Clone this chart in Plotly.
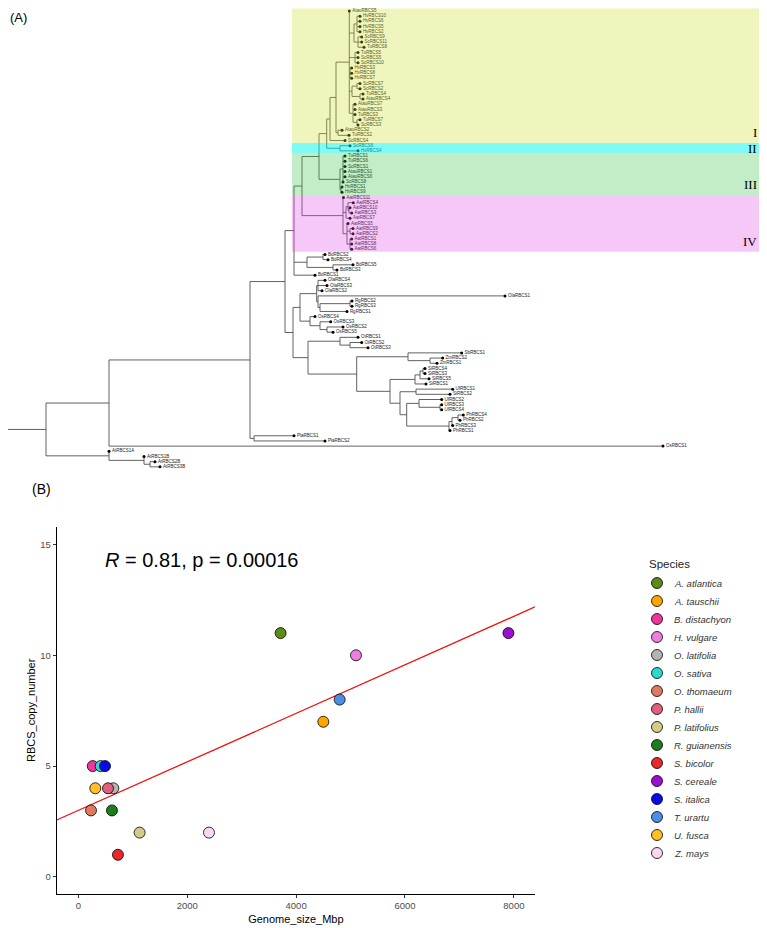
import numpy as np
import plotly.graph_objects as go

# =====================  PANEL A DATA : RBCS gene tree  =====================
# Newick sub-clades (branch lengths in substitutions / site)
GROUP_I_A = "((HvRBCS10:0.003,HvRBCS6:0.003,HvRBCS5:0.003,HvRBCS2:0.003):0.003,(ScRBCS9:0.0037,ScRBCS11:0.0037,TuRBCS8:0.006):0.004)"
GROUP_I_B = "(TuRBCS5:0.003,ScRBCS5:0.003,ScRBCS10:0.003)"
GROUP_I_C = "(HvRBCS3:0.0017,HvRBCS8:0.0017,HvRBCS7:0.0017)"
GROUP_I_D = "((ScRBCS7:0.003,ScRBCS2:0.003):0.005,(TuRBCS4:0.003,AtauRBCS4:0.003):0.008)"
GROUP_I_E = "(AtauRBCS7:0.002,AtauRBCS3:0.002,TuRBCS3:0.002,(TuRBCS7:0.003,ScRBCS3:0.001):0.004)"
GROUP_I_F = "(AtauRBCS2:0.004,TuRBCS2:0.011)"
GROUP_II = "(ScRBCS6:0.010,HvRBCS4:0.018)"
GROUP_III = "((TuRBCS1:0.002,TuRBCS6:0.002,ScRBCS1:0.002,AtauRBCS1:0.002,AtauRBCS6:0.002,ScRBCS8:0.0):0.003,(HvRBCS1:0.001,HvRBCS9:0.001):0.001)"
GROUP_IV = "(AatRBCS11:0.0005,((AatRBCS4:0.0053,(AatRBCS10:0.001,AatRBCS3:0.0027):0.001):0.002,AatRBCS7:0.004):0.003,(AatRBCS5:0.001,(AatRBCS9:0.003,AatRBCS2:0.003):0.003,(AatRBCS1:0.0017,AatRBCS8:0.0017,AatRBCS6:0.0017):0.003):0.004)"
CLADE_BD = "((BdRBCS2:0.002,BdRBCS4:0.005):0.016,(BdRBCS5:0.020,BdRBCS3:0.004):0.026)"
CLADE_OLA_RG = "((OlaRBCS4:0.007,OlaRBCS3:0.009,OlaRBCS2:0.004):0.0013,(OlaRBCS1:0.187,((RgRBCS2:0.002,RgRBCS3:0.002):0.030,RgRBCS1:0.027):0.002):0.0013)"
CLADE_OS = "(OsRBCS4:0.005,(OsRBCS3:0.0107,(OsRBCS2:0.016,OsRBCS5:0.006):0.007):0.010)"
CLADE_OT = "(OtRBCS1:0.018,(OtRBCS2:0.0117,OtRBCS3:0.018):0.010)"
CLADE_SB_ZM = "(SbRBCS1:0.0537,(ZmRBCS2:0.0127,ZmRBCS1:0.007):0.022)"
CLADE_SI = "(((SiRBCS4:0.002,SiRBCS3:0.002):0.003,SiRBCS5:0.009):0.005,SiRBCS1:0.011)"
CLADE_UF_PH = "((UfRBCS1:0.0367,SiRBCS2:0.034):0.016,((UfRBCS2:0.0227,(UfRBCS3:0.0017,UfRBCS4:0.0017):0.021):0.0123,(((PhRBCS4:0.0053,PhRBCS2:0.002):0.006,PhRBCS3:0.0007):0.003,PhRBCS1:0.001):0.0423):0.0067)"
CLADE_PLA = "(PlaRBCS1:0.040,PlaRBCS2:0.071)"
CLADE_AT = "(AtRBCS1A:0.0,(AtRBCS1B:0.0,(AtRBCS2B:0.005,AtRBCS3B:0.010):0.006):0.035)"

GROUP_I = (f"(((AtauRBCS5:0.0,{GROUP_I_A}:0.0047,{GROUP_I_B}:0.0057,"
           f"{GROUP_I_C}:0.0007,{GROUP_I_D}:0.0027,{GROUP_I_E}:0.0037):0.0133,{GROUP_I_F}:0.002):0.006,ScRBCS4:0.015)")
GRASS_CORE = f"((({GROUP_I}:0.0033,{GROUP_II}:0.0133):0.0077,{GROUP_III}:0.021):0.017,{GROUP_IV}:0.041)"
PANICOID = f"({CLADE_OT}:0.032,({CLADE_SB_ZM}:0.0513,({CLADE_SI}:0.025,{CLADE_UF_PH}:0.010):0.0333):0.0487)"
TREE_NEWICK = (f"((((({GRASS_CORE}:0.008,{CLADE_BD}:0.013,BdRBCS1:0.021):0.009,"
               f"(({CLADE_OLA_RG}:0.0167,{CLADE_OS}:0.010):0.007,{PANICOID}:0.015):0.008):0.035,"
               f"{CLADE_PLA}:0.004):0.141,OsRBCS1:0.554):0.063,{CLADE_AT}:0.063):0.041;")

HILIGHT_NAMES = ["I", "II", "III", "IV"]
HILIGHT_FIRST = ["AtauRBCS5", "ScRBCS6", "TuRBCS1", "AatRBCS11"]
HILIGHT_LAST = ["ScRBCS4", "HvRBCS4", "HvRBCS9", "AatRBCS6"]
HILIGHT_FILL = ["rgba(205,222,38,0.3)", "rgba(0,245,235,0.5)", "rgba(52,195,65,0.3)", "rgba(222,72,231,0.3)"]

# =====================  PANEL B DATA : genome size vs copy number  =====================
species = ["A. atlantica", "A. tauschii", "B. distachyon", "H. vulgare", "O. latifolia", "O. sativa",
           "O. thomaeum", "P. hallii", "P. latifolius", "R. guianensis", "S. bicolor", "S. cereale",
           "S. italica", "T. urartu", "U. fusca", "Z. mays"]
genome_size_mbp = [3715, 4500, 265, 5100, 643, 410, 233, 545, 1126, 618, 728, 7900, 490, 4800, 312, 2400]
rbcs_copy_number = [11, 7, 5, 10, 4, 5, 3, 4, 2, 3, 1, 11, 5, 8, 4, 2]
species_colors = ["#5B8C1A", "#FFA500", "#F0359E", "#EE7FE0", "#B4B4B4", "#2ED8CE", "#DD7A62", "#E0607E",
                  "#D3CB8A", "#1B7D1B", "#E8282A", "#9A10D0", "#0A0AE8", "#4A90E2", "#FFC125", "#F8D8F0"]
cor_label = "<i>R</i> = 0.81, p = 0.00016"

# ---------------------------------------------------------------------------
# page geometry: the HTML body has an 8 px margin, so the figure is 8 px smaller
OFF = 8.0
W = 767.0 - OFF
H = 928.0 - OFF


def px(xp):
    return (xp - OFF) / W


def py(yp):
    return 1 - (yp - OFF) / H


def parse_newick(text):
    s = "".join(text.split()).rstrip(";")
    pos = 0

    def node():
        nonlocal pos
        n = {"children": [], "name": "", "len": 0.0}
        if s[pos] == "(":
            pos += 1
            while True:
                n["children"].append(node())
                if s[pos] == ",":
                    pos += 1
                    continue
                pos += 1  # ')'
                break
        st = pos
        while pos < len(s) and s[pos] not in ":,()":
            pos += 1
        n["name"] = s[st:pos]
        if pos < len(s) and s[pos] == ":":
            pos += 1
            st = pos
            while pos < len(s) and s[pos] not in ",()":
                pos += 1
            n["len"] = float(s[st:pos])
        return n

    return node()


root = parse_newick(TREE_NEWICK)
leaves = []


def layout(n, x0):
    n["x"] = x0 + n["len"]
    if n["children"]:
        for c in n["children"]:
            layout(c, n["x"])
        n["y"] = (n["children"][0]["y"] + n["children"][-1]["y"]) / 2
    else:
        n["y"] = len(leaves)
        leaves.append(n)


layout(root, 0.0)
seg_x, seg_y = [], []


def segments(n, px0):
    seg_x.extend([px0, n["x"], None])
    seg_y.extend([n["y"], n["y"], None])
    if n["children"]:
        seg_x.extend([n["x"], n["x"], None])
        seg_y.extend([n["children"][0]["y"], n["children"][-1]["y"], None])
        for c in n["children"]:
            segments(c, n["x"])


segments(root, 0.0)
leaf_index = {l["name"]: l["y"] for l in leaves}

fig = go.Figure()
fig.add_trace(go.Scatter(x=seg_x, y=seg_y, mode="lines", line=dict(color="#505050", width=0.9),
                         hoverinfo="skip", showlegend=False, xaxis="x", yaxis="y"))
fig.add_trace(go.Scatter(x=[l["x"] for l in leaves], y=[l["y"] for l in leaves], mode="markers+text",
                         text=[l["name"] for l in leaves], textposition="middle right",
                         textfont=dict(size=4.5, color="#222222", family="Liberation Sans"),
                         marker=dict(size=3, color="black"), cliponaxis=False,
                         showlegend=False, xaxis="x", yaxis="y"))

shapes = []
annotations = []
for name, a, b, fill in zip(HILIGHT_NAMES, HILIGHT_FIRST, HILIGHT_LAST, HILIGHT_FILL):
    y0, y1 = leaf_index[a] - 0.5, leaf_index[b] + 0.5
    shapes.append(dict(type="rect", xref="x", yref="y", x0=0.287, x1=0.757, y0=y0, y1=y1,
                       fillcolor=fill, line=dict(width=0), layer="above"))
    label_y = y1 - min(2.0, (y1 - y0) / 2)
    annotations.append(dict(x=0.754, y=label_y, xref="x", yref="y", text=name, showarrow=False,
                            xanchor="right", yanchor="middle",
                            font=dict(family="Liberation Serif", size=13, color="black")))

# ---------------- Panel B ----------------
gx = np.array(genome_size_mbp, dtype=float)
gy = np.array(rbcs_copy_number, dtype=float)
slope, intercept = np.polyfit(gx, gy, 1)
x_range = [-397, 8388]
fit_x = np.array(x_range, dtype=float)
fig.add_trace(go.Scatter(x=fit_x, y=intercept + slope * fit_x, mode="lines",
                         line=dict(color="#EE1111", width=1.3), showlegend=False,
                         hoverinfo="skip", xaxis="x2", yaxis="y2"))
for sp, gxx, gyy, col in zip(species, genome_size_mbp, rbcs_copy_number, species_colors):
    fig.add_trace(go.Scatter(x=[gxx], y=[gyy], mode="markers", name=sp, showlegend=False,
                             marker=dict(size=11, color=col, line=dict(color="black", width=0.8)),
                             xaxis="x2", yaxis="y2"))

# legend (drawn on its own small axis: one row per species)
legend_rows = list(range(len(species)))
fig.add_trace(go.Scatter(x=[0] * len(species), y=legend_rows, mode="markers", showlegend=False,
                         marker=dict(size=11, color=species_colors, line=dict(color="black", width=0.8)),
                         hoverinfo="skip", xaxis="x3", yaxis="y3", cliponaxis=False))
for row, sp in zip(legend_rows, species):
    annotations.append(dict(x=15, y=row, xref="x3", yref="y3", text=f"<i>{sp}</i>", showarrow=False,
                            xanchor="left", yanchor="middle",
                            font=dict(family="Liberation Sans", size=9.5, color="#333333")))
annotations.append(dict(x=-10, y=-1.05, xref="x3", yref="y3", text="Species", showarrow=False,
                        xanchor="left", yanchor="middle", font=dict(family="Liberation Sans", size=11.5, color="#222222")))

annotations.append(dict(x=450, y=14.3, xref="x2", yref="y2", text=cor_label, showarrow=False,
                        xanchor="left", yanchor="middle",
                        font=dict(family="Liberation Sans", size=20, color="black")))
annotations.append(dict(x=0, y=1, xref="paper", yref="paper", text="(A)", showarrow=False,
                        xanchor="left", yanchor="top", font=dict(family="Liberation Sans", size=13, color="black")))
annotations.append(dict(x=px(30), y=py(489), xref="paper", yref="paper", text="(B)", showarrow=False,
                        xanchor="left", yanchor="middle", font=dict(family="Liberation Sans", size=14, color="black")))

fig.update_layout(
    width=int(W), height=int(H), margin=dict(l=0, r=0, t=0, b=0),
    paper_bgcolor="white", plot_bgcolor="white",
    font=dict(family="Liberation Sans", color="#222222"),
    shapes=shapes, annotations=annotations, showlegend=False,
    xaxis=dict(domain=[0, 1], range=[(OFF - 5) / 1000, (767 - 5) / 1000], visible=False),
    yaxis=dict(domain=[py(475), 1], range=[(475 - 11) / 5.18, (OFF - 11) / 5.18], visible=False),
    xaxis2=dict(domain=[px(56.7), px(535)], anchor="y2", range=x_range, showline=True, linecolor="black",
                linewidth=1.1, ticks="outside", ticklen=3, tickcolor="#333333", showgrid=False, zeroline=False,
                tickvals=[0, 2000, 4000, 6000, 8000], tickfont=dict(size=9.5, color="#4D4D4D"),
                title=dict(text="Genome_size_Mbp", font=dict(size=11, color="black"), standoff=4)),
    yaxis2=dict(domain=[py(894), py(526.7)], anchor="x2", range=[-0.77, 15.8], showline=True,
                linecolor="black", linewidth=1.1, ticks="outside", ticklen=3, tickcolor="#333333",
                showgrid=False, zeroline=False, tickvals=[0, 5, 10, 15], tickfont=dict(size=9.5, color="#4D4D4D"),
                title=dict(text="RBCS_copy_number", font=dict(size=11, color="black"), standoff=2)),
    xaxis3=dict(domain=[px(640), 1], anchor="y3", range=[-17, 767 - 657], visible=False),
    yaxis3=dict(domain=[py(880), py(540)], anchor="x3", range=[(880 - 583) / 18, (540 - 583) / 18],
                visible=False),
)
fig.write_html("out.html")
